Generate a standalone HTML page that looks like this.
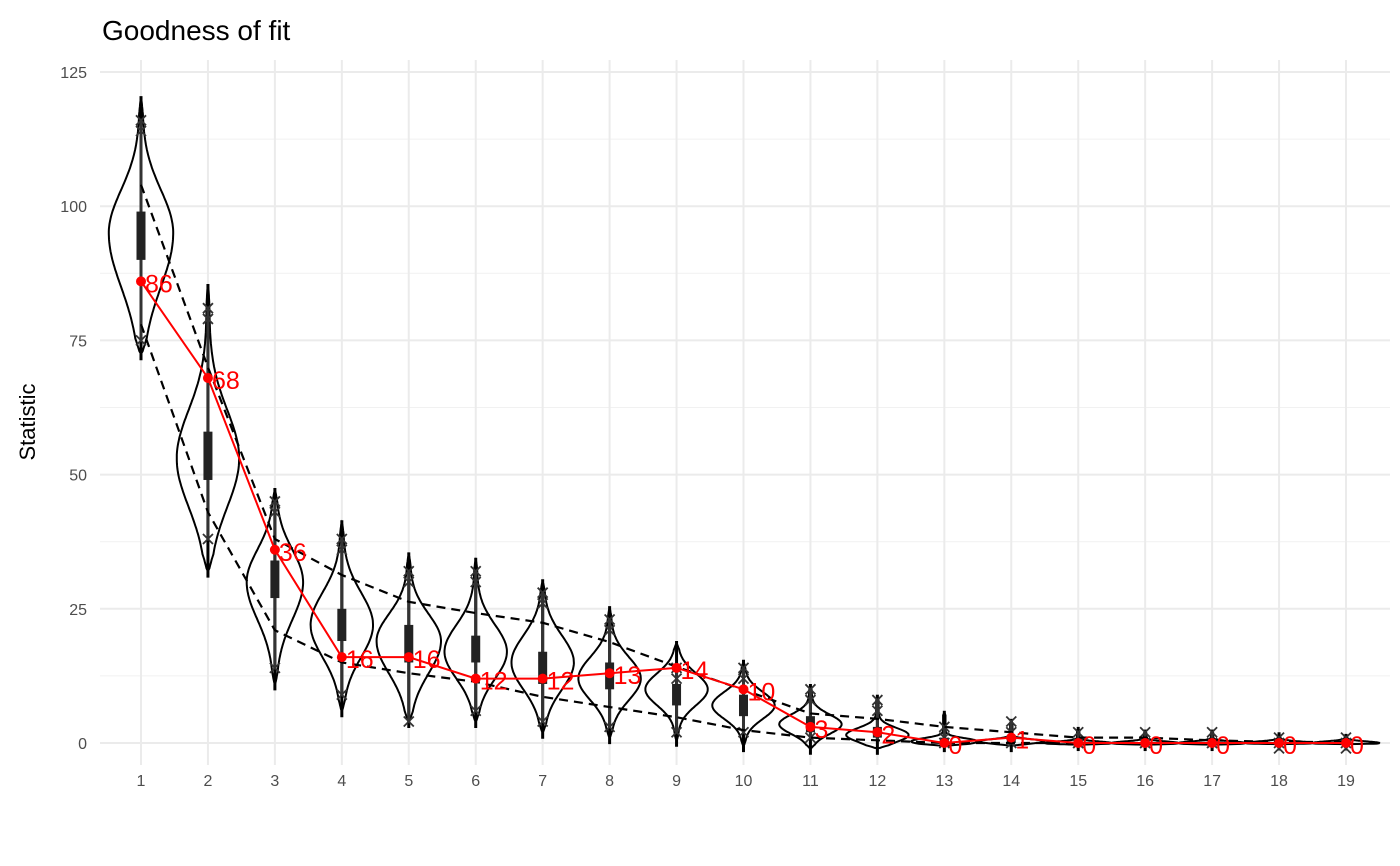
<!DOCTYPE html>
<html><head><meta charset="utf-8"><style>
html,body{margin:0;padding:0;background:#fff;}
svg{display:block;font-family:"Liberation Sans",sans-serif;}
</style></head><body>
<svg id="s" width="1400" height="866" xmlns="http://www.w3.org/2000/svg"></svg>
<script>
const S=document.getElementById('s');
const Y=v=>743-5.368*v, X=i=>141+(i-1)*66.944;
let h='';
for(let v=-12.5;v<=137.5;v+=25){const y=Y(v);if(y>60&&y<790)h+=`<line x1="100" x2="1390" y1="${y}" y2="${y}" stroke="#f1f1f1" stroke-width="1"/>`;}
for(let v=0;v<=125;v+=25)h+=`<line x1="100" x2="1390" y1="${Y(v)}" y2="${Y(v)}" stroke="#ebebeb" stroke-width="2"/>`;
for(let i=1;i<=19;i++)h+=`<line x1="${X(i)}" x2="${X(i)}" y1="60" y2="765" stroke="#ebebeb" stroke-width="2"/>`;
for(let v=0;v<=125;v+=25)h+=`<text x="87" y="${Y(v)+6}" font-size="16" fill="#4d4d4d" text-anchor="end">${v}</text>`;
for(let i=1;i<=19;i++)h+=`<text x="${X(i)}" y="786" font-size="16" fill="#4d4d4d" text-anchor="middle">${i}</text>`;
h+=`<text x="102" y="40" font-size="28" fill="#000">Goodness of fit</text>`;
h+=`<text transform="translate(35,422) rotate(-90)" font-size="22" fill="#000" text-anchor="middle">Statistic</text>`;
const V=[[72.5,120,95,31,8,10,90,99,75,116],[32,85,53,30,9,9,49,58,38,81],[11,47,30,27,6,7,27,34,14,45],
[6,41,22,30,6,6,19,25,9,38],[4,35,19,31,5,6,15,22,4,32],[4,34,17,30,5,5,15,20,6,32],[2,30,15,30,5,5,11,17,4,28],
[1,25,12,30,4,4,10,15,3,23],[0.5,18.5,10,30,3,3,7,11,2,14],[-0.5,15,7,30,2.5,2.5,5,9,2,14],[-1,10.5,3.5,30,1.8,1.8,2,5,1,10],
[-1,8.5,1.5,30,1.3,1.3,1,3,0.5,8],[-0.5,5.5,0.3,32,0.6,0.6,0,1,0,3],[-0.5,4,0.3,32,0.4,0.4,0,1,0,4],[-0.3,2.5,0,32,0.3,0.3,0,0.5,0,2],
[-0.3,2,0,32,0.3,0.3,0,0.5,0,2],[-0.3,2,0,32,0.3,0.3,0,0.5,0,2],[-0.2,1.5,0,32,0.3,0.3,0,0.3,0,1],[-0.2,1.2,0,32,0.3,0.3,0,0.3,0,1]];
V.forEach((d,k)=>{const i=k+1,[lo,hi,m,W,su,sd,q1,q3,wl,wh]=d;const x=X(i);let L=[],R=[];
 for(let t=0;t<=100;t++){const v=lo+(hi-lo)*t/100;const s=v>m?su:sd;
  const e=Math.min(1,Math.min(v-lo,hi-v)/(0.06*(hi-lo)));
  let w=(W*Math.exp(-0.5*((v-m)/s)**2)+1.2)*Math.sqrt(Math.max(0,e));
  L.push(`${(x-w).toFixed(1)},${Y(v).toFixed(1)}`);R.push(`${(x+w).toFixed(1)},${Y(v).toFixed(1)}`);}
 h+=`<line x1="${x}" x2="${x}" y1="${Y(lo-1.2)}" y2="${Y(hi+0.5)}" stroke="#000" stroke-width="3"/>`;
 h+=`<polygon points="${L.join(' ')} ${R.reverse().join(' ')}" fill="none" stroke="#000" stroke-width="2"/>`;
 h+=`<line x1="${x}" x2="${x}" y1="${Y(wl)}" y2="${Y(wh)}" stroke="#333" stroke-width="3"/>`;
 h+=`<rect x="${x-4.5}" y="${Y(q3)}" width="9" height="${Y(q1)-Y(q3)}" fill="#222"/>`;
 [wh,wh-2,wl].forEach(v=>{if(v>0.5||i>12){const y=Y(v);h+=`<path d="M${x-5} ${y-5}L${x+5} ${y+5}M${x-5} ${y+5}L${x+5} ${y-5}" stroke="#333" stroke-width="1.8"/>`;}});
});
const up=[104,70,38,31.3,26.3,24.2,22.4,18.8,14.2,9.9,5.5,4.5,3,2,1,1,0.5,0.2,0.2];
const dn=[78,43,21,15,13,11.4,8.6,6.7,4.8,2.4,1,0.5,0,0,0,0,0,0,0];
[up,dn].forEach(a=>{h+=`<polyline points="${a.map((v,k)=>X(k+1)+','+Y(v)).join(' ')}" fill="none" stroke="#000" stroke-width="2.2" stroke-dasharray="9,6"/>`;});
const r=[86,68,36,16,16,12,12,13,14,10,3,2,0,1,0,0,0,0,0];
h+=`<polyline points="${r.map((v,k)=>X(k+1)+','+Y(v)).join(' ')}" fill="none" stroke="#f00" stroke-width="2"/>`;
r.forEach((v,k)=>{h+=`<circle cx="${X(k+1)}" cy="${Y(v)}" r="5" fill="#f00"/><text x="${X(k+1)+4}" y="${Y(v)+11}" font-size="25" fill="#f00">${v}</text>`;});
S.innerHTML=h;
</script>
</body></html>
